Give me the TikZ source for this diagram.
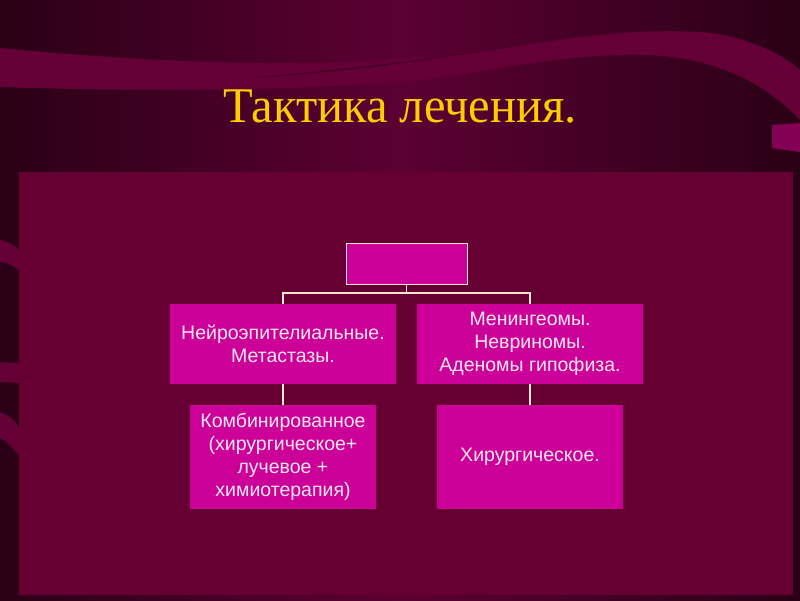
\documentclass[tikz,border=0pt]{standalone}
\usepackage{fontspec}
\setmainfont{Liberation Sans}
\newfontfamily\titlefont{Liberation Serif}
\definecolor{bgmid}{HTML}{5C0032}
\definecolor{bgdark}{HTML}{2A0016}
\definecolor{ribbon}{HTML}{640036}
\definecolor{panel}{HTML}{660033}
\definecolor{boxfill}{HTML}{CC0099}
\definecolor{linec}{HTML}{FFE6CC}
\definecolor{txtc}{HTML}{FFE8F2}
\definecolor{gold}{HTML}{FFCC00}
\begin{document}
\begin{tikzpicture}[x=1pt,y=-1pt,
  orgbox/.style={fill=boxfill, draw=none, inner sep=0pt, align=center, text=txtc,
    font=\fontsize{19.5}{23}\selectfont},
  conn/.style={draw=linec, line width=1.3pt}]
\useasboundingbox (0,0) rectangle (800,600);
% background
\fill[left color=bgmid, right color=bgdark] (400,0) rectangle (800,600);
\fill[left color=bgdark, right color=bgmid] (0,0) rectangle (400,600);
% top ribbon
\fill[ribbon] (0,48) .. controls (150,62) and (300,70) .. (460,55)
  .. controls (560,40) and (620,28) .. (700,32)
  .. controls (750,35) and (790,60) .. (800,70) -- (800,120)
  .. controls (770,90) and (730,60) .. (650,55)
  .. controls (560,52) and (480,75) .. (400,82)
  .. controls (300,90) and (150,92) .. (0,87) -- cycle;
\fill[bgdark, opacity=0.6] (250,78) .. controls (350,72) and (430,60) .. (520,45)
  .. controls (440,58) and (360,68) .. (250,78) -- cycle;
\fill[ribbon!70!boxfill] (772,125) -- (800,123) -- (800,152) -- (772,148) -- cycle;
% left strip swooshes
\fill[ribbon] (0,240) .. controls (8,242) and (15,245) .. (19,250) -- (19,270) .. controls (12,265) and (6,262) .. (0,262) -- cycle;
\fill[ribbon] (0,362) -- (19,363) -- (19,383) -- (0,382) -- cycle;
\fill[ribbon] (0,412) .. controls (8,415) and (15,420) .. (19,428) -- (19,455) .. controls (12,448) and (6,440) .. (0,438) -- cycle;
% panel
\fill[panel] (19,172) rectangle (793,595);
% title
\node[text=gold, font=\titlefont\fontsize{50}{54}\selectfont, anchor=base, xscale=0.97] (title) at (400,122) {Тактика лечения.};
% boxes
\node[orgbox, draw=linec, line width=0.8pt, minimum width=121pt, minimum height=41pt] (top) at (406.5,263.5) {};
\node[orgbox, minimum width=226pt, minimum height=80pt] (l1) at (283,344) {Нейроэпителиальные.\\Метастазы.};
\node[orgbox, minimum width=226pt, minimum height=80pt] (r1) at (530,344) {Менингеомы.\\Невриномы.\\Аденомы гипофиза.};
\node[orgbox, minimum width=186pt, minimum height=104pt] (l2) at (283,457) {Комбинированное\\(хирургическое+\\лучевое +\\химиотерапия)};
\node[orgbox, minimum width=186pt, minimum height=104pt] (r2) at (530,457) {Хирургическое.};
% connectors
\coordinate (bar) at (406.5,293);
\draw[conn] (top.south) -- (bar);
\draw[conn] (l1.north) -- (l1.north |- bar) -- (r1.north |- bar) -- (r1.north);
\draw[conn] (l1.south) -- (l2.north);
\draw[conn] (r1.south) -- (r2.north);
\end{tikzpicture}
\end{document}
